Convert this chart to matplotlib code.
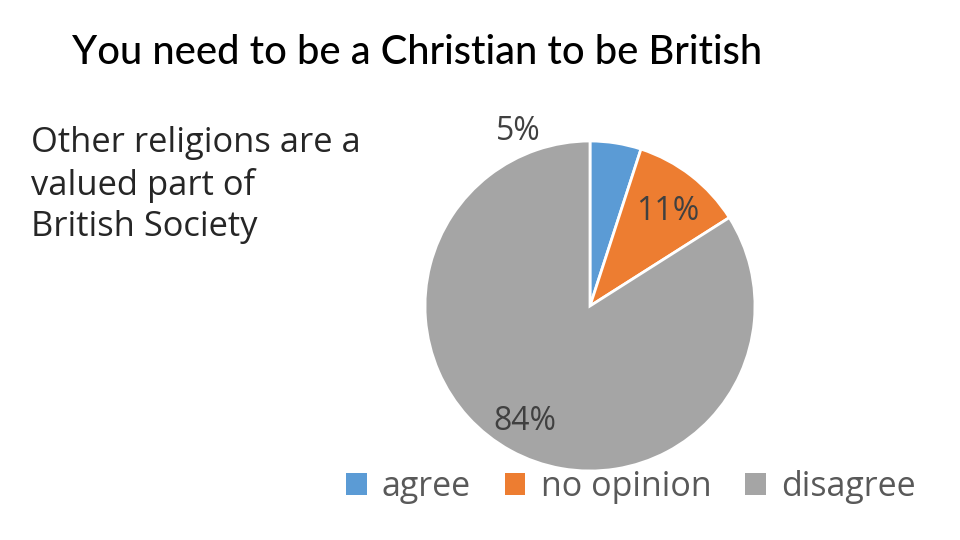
import matplotlib
matplotlib.use("Agg")
import matplotlib.pyplot as plt
from matplotlib.patches import Patch

categories = ["agree", "no opinion", "disagree"]
values = [5, 11, 84]
colors = ["#5B9BD5", "#ED7D31", "#A5A5A5"]
title = "You need to be a Christian to be British"
side_text = "Other religions are a\nvalued part of\nBritish Society"

fig = plt.figure(figsize=(9.6, 5.4), dpi=100)
fig.patch.set_facecolor("white")

ax = fig.add_axes([425/960, 69/540, 330/960, 330/540])
wedges, _ = ax.pie(values, colors=colors, startangle=90, counterclock=False,
                   radius=1.0, wedgeprops=dict(edgecolor="white", linewidth=2))
ax.set_xlim(-1, 1)
ax.set_ylim(-1, 1)
ax.set_aspect("equal")
ax.axis("off")

label_pos = [(-0.436, 1.06), (0.473, 0.570), (-0.394, -0.70)]
for (x, y), v in zip(label_pos, values):
    ax.text(x, y, f"{v}%", ha="center", va="center", fontsize=23,
            color="#404040", family="Open Sans", clip_on=False)

fig.text(72/960, 1 - 53/540, title, ha="left", va="center", fontsize=28.7,
         family="Lato", weight="medium", color="black")
fig.text(31/960, 1 - 126/540, side_text, ha="left", va="top", fontsize=24.8,
         family="Open Sans", color="#262626", linespacing=1.29)

handles = [Patch(facecolor=c, edgecolor="none") for c in colors]
fig.legend(handles, categories, loc="center", bbox_to_anchor=(631/960, 1 - 487/540),
           ncol=3, frameon=False, handlelength=0.6, handleheight=0.6,
           handletextpad=0.45, columnspacing=1.0,
           prop=dict(family="Open Sans", size=24.5), labelcolor="#595959")

fig.savefig("out.png", dpi=100)
